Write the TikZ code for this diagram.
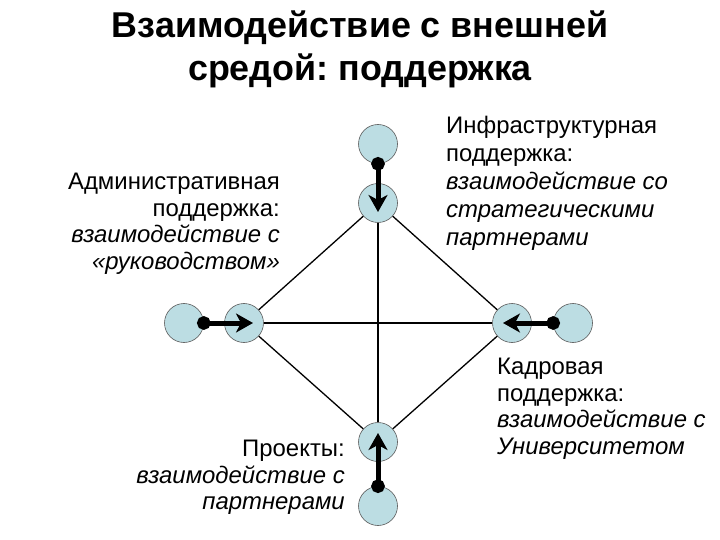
\documentclass[tikz,border=0pt]{standalone}
\usepackage{fontspec}
\setmainfont{Liberation Sans}
\frenchspacing
\usetikzlibrary{arrows.meta,positioning}
\definecolor{siteblue}{RGB}{188,221,227}
\tikzset{site/.style={circle,fill=siteblue,draw=black!65,line width=0.6bp,minimum size=39bp,inner sep=0mm}}
\tikzset{link/.style={line width=1.3bp}}
\tikzset{push/.style={line width=5bp,{Circle[length=13.5bp]}-{Stealth[length=17bp,width=19bp,inset=5bp]},shorten <=-6.75bp,shorten >=-9bp}}
\tikzset{infobox/.style={inner sep=0mm,font=\fontsize{24}{26.7}\selectfont}}
\tikzset{headline/.style={inner sep=0mm,align=center,font=\fontsize{36}{43}\selectfont\bfseries}}

\begin{document}
\begin{tikzpicture}[x=1bp,y=-1bp]
    \useasboundingbox (0,0) rectangle (720,540);

    \node[headline,anchor=north] (title) at (360,11) {Взаимодействие с внешней\\средой: поддержка};

    \node[site] (to) at (378,144) {};
    \node[site] (ti) at (378,203) {};
    \node[site] (lo) at (184,323) {};
    \node[site] (li) at (244,323) {};
    \node[site] (ri) at (512,323) {};
    \node[site] (ro) at (573,323) {};
    \node[site] (bi) at (378,442) {};
    \node[site] (bo) at (378,506) {};

    \draw[link] (ti) -- (li);
    \draw[link] (ti) -- (ri);
    \draw[link] (bi) -- (li);
    \draw[link] (bi) -- (ri);
    \draw[link] (li) -- (ri);
    \draw[link] (ti) -- (bi);

    \draw[push] (to.south) -- (ti.center);
    \draw[push] (lo.east)  -- (li.center);
    \draw[push] (ro.west)  -- (ri.center);
    \draw[push] (bo.north) -- (bi.center);

    \node[infobox,anchor=north east,align=right] (admin) at (280,173)
        {Административная\\поддержка:\\\itshape взаимодействие с\\\itshape «руководством»};
    \node[infobox,anchor=north west,align=left,font=\fontsize{24}{28.2}\selectfont] (infra) at (446,116)
        {Инфраструктурная\\поддержка:\\\itshape взаимодействие со\\\itshape стратегическими\\\itshape партнерами};
    \node[infobox,anchor=north west,align=left] (staff) at (497,358)
        {Кадровая\\поддержка:\\\itshape взаимодействие с\\\itshape Университетом};
    \node[infobox,anchor=north east,align=right] (proj) at (345,440)
        {Проекты:\\\itshape взаимодействие с\\\itshape партнерами};
\end{tikzpicture}
\end{document}
